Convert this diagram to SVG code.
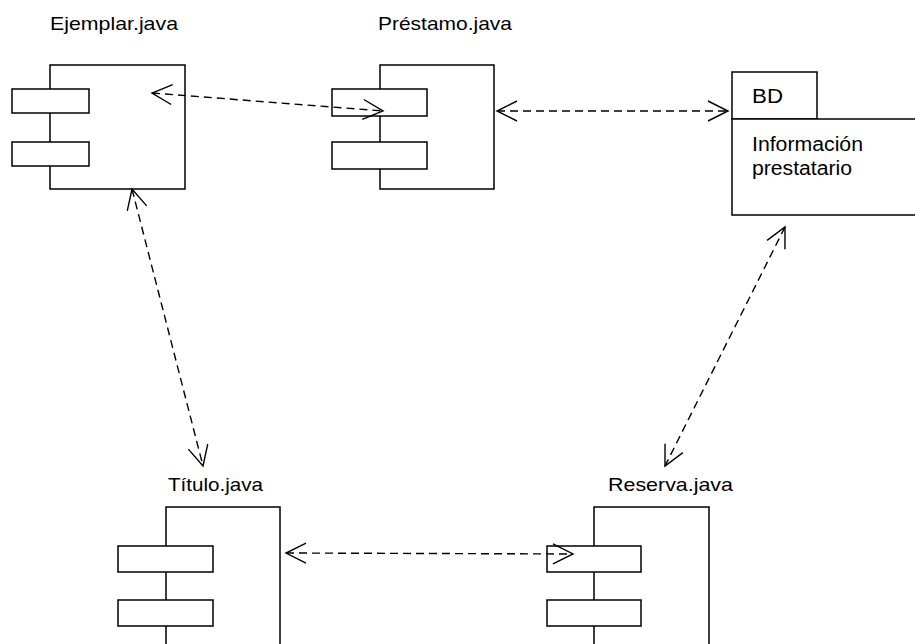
<svg xmlns="http://www.w3.org/2000/svg" width="915" height="644" viewBox="0 0 915 644">
<style>
.box{fill:#fff;stroke:#000;stroke-width:1.5}
.lbl{font-family:"Liberation Sans",Arial,sans-serif;font-size:18.5px;fill:#000}
.pk{font-family:"Liberation Sans",Arial,sans-serif;font-size:20px;fill:#000}
.con{fill:none;stroke:#000;stroke-width:1.4;stroke-dasharray:8 5}
.ah{fill:none;stroke:#000;stroke-width:1.4}
</style>
<defs>
<marker id="open" viewBox="-22 -12 24 24" refX="0" refY="0" markerWidth="24" markerHeight="24" markerUnits="userSpaceOnUse" orient="auto-start-reverse">
<path class="ah" d="M-20,-10 L0,0 L-20,10"/>
</marker>
</defs>
<rect width="915" height="644" fill="#fff"/>
<g id="ejemplar">
<text class="lbl" x="50" y="29.5" textLength="128" lengthAdjust="spacingAndGlyphs">Ejemplar.java</text>
<rect class="box" x="50" y="65" width="135" height="124"/>
<rect class="box" x="12" y="89" width="77" height="24"/>
<rect class="box" x="12" y="142" width="77" height="24"/>
</g>
<g id="prestamo">
<text class="lbl" x="378" y="29.5" textLength="134" lengthAdjust="spacingAndGlyphs">Préstamo.java</text>
<rect class="box" x="380" y="65" width="114" height="124"/>
<rect class="box" x="332" y="89" width="95" height="27"/>
<rect class="box" x="332" y="142" width="95" height="27"/>
</g>
<g id="bd">
<rect class="box" x="732" y="72" width="85" height="47"/>
<rect class="box" x="732" y="119" width="190" height="96"/>
<text class="pk" x="752" y="102.7" textLength="31" lengthAdjust="spacingAndGlyphs">BD</text>
<text class="pk" x="752" y="151" textLength="111" lengthAdjust="spacingAndGlyphs">Información</text>
<text class="pk" x="752" y="175" textLength="100" lengthAdjust="spacingAndGlyphs">prestatario</text>
</g>
<g id="titulo">
<text class="lbl" x="168" y="490.7" textLength="95" lengthAdjust="spacingAndGlyphs">Título.java</text>
<rect class="box" x="166" y="507" width="114" height="150"/>
<rect class="box" x="118" y="546" width="95" height="26"/>
<rect class="box" x="118" y="600" width="95" height="26"/>
</g>
<g id="reserva">
<text class="lbl" x="608" y="490.7" textLength="125" lengthAdjust="spacingAndGlyphs">Reserva.java</text>
<rect class="box" x="594" y="507" width="115" height="150"/>
<rect class="box" x="547" y="546" width="94" height="26"/>
<rect class="box" x="547" y="600" width="94" height="26"/>
</g>
<g id="connectors">
<line class="con" x1="152" y1="93" x2="383" y2="111" marker-start="url(#open)" marker-end="url(#open)"/>
<line class="con" x1="497" y1="111" x2="728" y2="111" marker-start="url(#open)" marker-end="url(#open)"/>
<line class="con" x1="132" y1="189" x2="203" y2="466" marker-start="url(#open)" marker-end="url(#open)"/>
<line class="con" x1="785" y1="227" x2="665" y2="466" marker-start="url(#open)" marker-end="url(#open)"/>
<line class="con" x1="286" y1="553" x2="573" y2="554" marker-start="url(#open)" marker-end="url(#open)"/>
</g>
</svg>
